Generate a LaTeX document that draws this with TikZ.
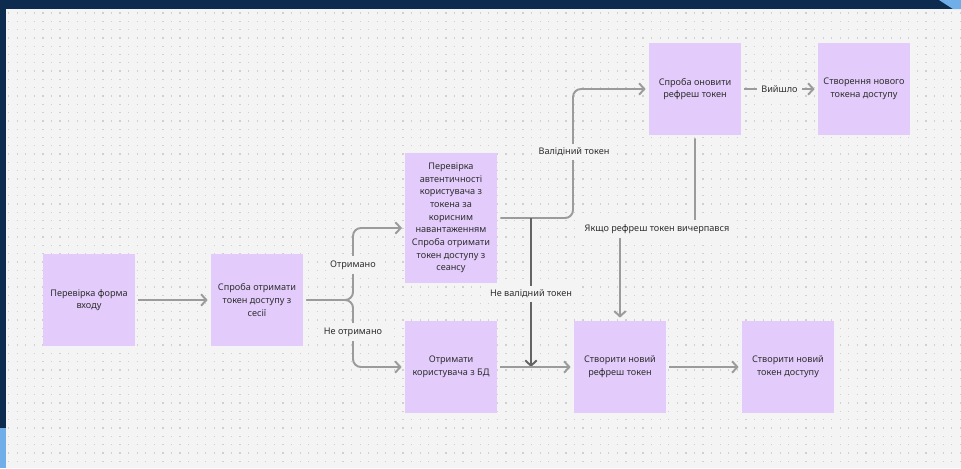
\documentclass[tikz,border=0pt]{standalone}
\usepackage{fontspec}
\setmainfont{Noto Sans}
\usepackage{tikz}
\usetikzlibrary{arrows.meta,positioning}
\definecolor{navy}{RGB}{12, 43, 79}
\definecolor{sky}{RGB}{111, 174, 232}
\definecolor{canvas}{RGB}{244, 244, 244}
\definecolor{griddot}{RGB}{208, 208, 208}
\definecolor{lilac}{RGB}{227, 204, 251}
\definecolor{wire}{RGB}{155, 155, 155}
\definecolor{darkwire}{RGB}{100, 100, 100}
\definecolor{ink}{RGB}{46, 46, 46}

\begin{document}
\begin{tikzpicture}[x=0.02cm, y=-0.02cm, >={Straight Barb[length=3pt,width=6.5pt]},
    box/.style={fill=lilac, minimum width=1.84cm, minimum height=1.84cm, align=center,
        text=ink, inner sep=2pt, font=\fontsize{5.2}{7.2}\selectfont},
    flow/.style={->, wire, line width=1.1pt, rounded corners=4.5pt,
        shorten <=1.7pt, shorten >=1.7pt},
    tag/.style={fill=canvas, text=ink, inner sep=2.5pt, font=\fontsize{5.2}{6}\selectfont}]
    \useasboundingbox (0,0) rectangle (961,468);

    % Frame and dotted canvas
    \fill[navy] (0,0) rectangle (961,468);
    \fill[canvas] (6,9) rectangle (961,468);
    \fill[sky] (939,0) -- (961,0) -- (961,9) -- (953,9) -- cycle;
    \fill[sky] (0,428) -- (6,428) -- (6,468) -- (0,468) -- cycle;
    \foreach \y in {13,21.3,...,466}
        \draw[griddot, line width=0.7pt, dash pattern=on 0.7pt off 4.18pt] (8,\y) -- (961,\y);

    % Steps
    \node[box] (form) at (89,300) {Перевірка форма\\входу};
    \node[box] (session) at (257,300) {Спроба отримати\\токен доступу з\\сесії};
    \node[box, minimum height=2.6cm] (verify) at (451,218) {Перевірка\\автентичності\\користувача з\\токена за\\корисним\\навантаженням\\Спроба отримати\\токен доступу з\\сеансу};
    \node[box] (getuser) at (451,367) {Отримати\\користувача з БД};
    \node[box] (refresh) at (695,89) {Спроба оновити\\рефреш токен};
    \node[box] (newaccess) at (864,89) {Створення нового\\токена доступу};
    \node[box] (newrefresh) at (620,367) {Створити новий\\рефреш токен};
    \node[box] (newtoken) at (788,367) {Створити новий\\токен доступу};

    % Bend points
    \coordinate (fork) at (353,300);
    \coordinate (inverify) at (405,228);
    \coordinate (bend) at (573,218);
    \coordinate (split) at (531,218);
    \coordinate (merge) at (531,367);
    \coordinate (elbowA) at (695,229);
    \coordinate (elbowB) at (620,229);

    % Connectors
    \draw[flow] (form) -- (session);
    \draw[flow] (session.east) -- (fork) |- (inverify);
    \draw[flow] (session.east) -- (fork) |- (getuser.west);
    \draw[flow] (verify.east) -- (bend) |- (refresh.west);
    \draw[flow, darkwire, shorten <=0pt, shorten >=0pt] (split) -- (merge);
    \draw[flow] (getuser) -- (newrefresh);
    \draw[flow] (refresh.south) -- (elbowA) -- (elbowB) -- (newrefresh.north);
    \draw[flow] (refresh) -- (newaccess) node[tag, midway] (exited) {Вийшло};
    \draw[flow] (newrefresh) -- (newtoken);

    % Labels
    \node[tag] (got) at (353,265) {Отримано};
    \node[tag] (notgot) at (353,332) {Не отримано};
    \node[tag] (valid) at (574,152) {Валідіний токен};
    \node[tag] (invalid) at (531,294) {Не валідний токен};
    \node[tag] (expired) at (657,229) {Якщо рефреш токен вичерпався};
\end{tikzpicture}
\end{document}
